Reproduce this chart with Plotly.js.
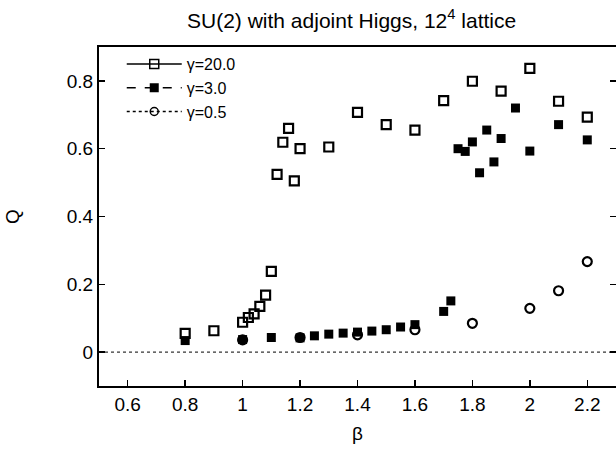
<!DOCTYPE html>
<html>
<head>
<meta charset="utf-8">
<script src="https://cdn.plot.ly/plotly-3.0.1.min.js"></script>
<style>html,body{margin:0;padding:0;background:#fff;}#chart{width:616px;height:449px;}</style>
</head>
<body>
<div id="chart"></div>
<script>
// gamma = 20.0 (open squares)
const beta20 = [0.8, 0.9, 1.0, 1.02, 1.04, 1.06, 1.08, 1.1, 1.12, 1.14, 1.16, 1.18, 1.2, 1.3, 1.4, 1.5, 1.6, 1.7, 1.8, 1.9, 2.0, 2.1, 2.2];
const q20    = [0.055, 0.063, 0.088, 0.102, 0.113, 0.135, 0.168, 0.238, 0.524, 0.619, 0.660, 0.505, 0.600, 0.605, 0.707, 0.671, 0.655, 0.742, 0.799, 0.770, 0.837, 0.740, 0.693];
// gamma = 3.0 (filled squares)
const beta3 = [0.8, 1.0, 1.1, 1.2, 1.25, 1.3, 1.35, 1.4, 1.45, 1.5, 1.55, 1.6, 1.7, 1.725, 1.75, 1.775, 1.8, 1.825, 1.85, 1.875, 1.9, 1.95, 2.0, 2.1, 2.2];
const q3    = [0.034, 0.037, 0.043, 0.042, 0.048, 0.053, 0.056, 0.059, 0.062, 0.066, 0.074, 0.081, 0.120, 0.151, 0.600, 0.592, 0.620, 0.529, 0.655, 0.561, 0.630, 0.720, 0.593, 0.671, 0.626];
// gamma = 0.5 (open circles)
const beta05 = [1.0, 1.2, 1.4, 1.6, 1.8, 2.0, 2.1, 2.2];
const q05    = [0.036, 0.043, 0.051, 0.066, 0.085, 0.129, 0.181, 0.267];

const seriesNames = ['γ=20.0', 'γ=3.0', 'γ=0.5'];
const xTickVals = [0.6, 0.8, 1, 1.2, 1.4, 1.6, 1.8, 2, 2.2];
const xTickText = ['0.6', '0.8', '1', '1.2', '1.4', '1.6', '1.8', '2', '2.2'];
const yTickVals = [0, 0.2, 0.4, 0.6, 0.8];
const yTickText = ['0', '0.2', '0.4', '0.6', '0.8'];

const FONT = '"Liberation Sans", Arial, Helvetica, sans-serif';

const traces = [
  {x: beta20, y: q20, mode: 'markers', type: 'scatter', showlegend: false,
   marker: {symbol: 'square-open', size: 9, color: '#000', line: {width: 2.2, color: '#000'}}},
  {x: beta3, y: q3, mode: 'markers', type: 'scatter', showlegend: false,
   marker: {symbol: 'square', size: 9, color: '#000', line: {width: 0}}},
  {x: beta05, y: q05, mode: 'markers', type: 'scatter', showlegend: false,
   marker: {symbol: 'circle-open', size: 9, color: '#000', line: {width: 2.2, color: '#000'}}},
  // legend entries
  {x: [null], y: [null], mode: 'lines+markers', type: 'scatter', name: seriesNames[0],
   line: {color: '#000', width: 1.5, dash: 'solid'},
   marker: {symbol: 'square-open', size: 9, color: '#000', line: {width: 1.5, color: '#000'}}},
  {x: [null], y: [null], mode: 'lines+markers', type: 'scatter', name: seriesNames[1],
   line: {color: '#000', width: 1.5, dash: 'dash'},
   marker: {symbol: 'square', size: 9, color: '#000'}},
  {x: [null], y: [null], mode: 'lines+markers', type: 'scatter', name: seriesNames[2],
   line: {color: '#000', width: 1.5, dash: 'dot'},
   marker: {symbol: 'circle-open', size: 8, color: '#000', line: {width: 1.5, color: '#000'}}}
];

const layout = {
  width: 616, height: 449,
  margin: {l: 99, r: 0, t: 47, b: 63, pad: 0},
  paper_bgcolor: '#fff', plot_bgcolor: '#fff',
  font: {family: FONT, size: 19, color: '#000'},
  title: {text: 'SU(2) with adjoint Higgs, 12<sup>4</sup> lattice', font: {family: FONT, size: 21, color: '#000'},
          x: 187 / 616, xanchor: 'left', y: 0.955, yanchor: 'middle', xref: 'container', yref: 'container'},
  xaxis: {
    range: [0.5, 2.3], tickvals: xTickVals, ticktext: xTickText,
    showgrid: false, zeroline: false, showline: true, linecolor: '#000', linewidth: 2, mirror: true,
    ticks: 'inside', ticklen: 6, tickwidth: 1.5, tickcolor: '#000',
    tickfont: {family: FONT, size: 19, color: '#000'},
    title: {text: 'β', font: {family: FONT, size: 19, color: '#000'}, standoff: 13}
  },
  yaxis: {
    range: [-0.1, 0.9], tickvals: yTickVals, ticktext: yTickText,
    showgrid: false, zeroline: false, showline: true, linecolor: '#000', linewidth: 2, mirror: 'ticks',
    ticks: 'inside', ticklen: 6, tickwidth: 1.5, tickcolor: '#000',
    tickfont: {family: FONT, size: 19, color: '#000'},
    title: {text: 'Q', font: {family: FONT, size: 19, color: '#000'}, standoff: 42}
  },
  legend: {x: 0.044, y: 1.0, xanchor: 'left', yanchor: 'top', bgcolor: 'rgba(0,0,0,0)', borderwidth: 0,
           itemwidth: 55, font: {family: FONT, size: 16, color: '#000'}, tracegroupgap: 0},
  shapes: [{type: 'line', xref: 'paper', x0: 0, x1: 1, yref: 'y', y0: 0, y1: 0,
            line: {color: '#000', width: 1, dash: 'dot'}, layer: 'below'}]
};

Plotly.newPlot('chart', traces, layout, {displayModeBar: false, staticPlot: true});
</script>
</body>
</html>
